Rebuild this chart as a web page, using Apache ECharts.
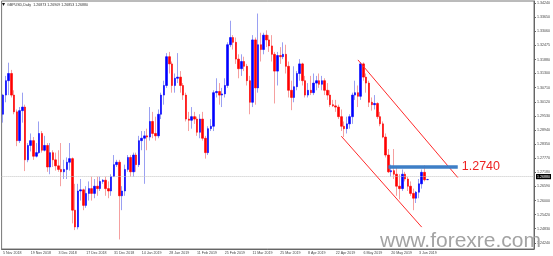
<!DOCTYPE html>
<html><head><meta charset="utf-8">
<script src="https://cdn.jsdelivr.net/npm/echarts@6/dist/echarts.min.js"></script>
<style>html,body{margin:0;padding:0;background:#fff}#c{width:553px;height:256px}</style>
</head><body><div id="c"></div>
<script>
// ---- data ----
const headerText = 'GBPUSD,Daily  1.26873 1.26909 1.26853 1.26880';
const tickDates = ['5 Nov 2018','19 Nov 2018','3 Dec 2018','17 Dec 2018','31 Dec 2018','14 Jan 2019','28 Jan 2019','11 Feb 2019','25 Feb 2019','11 Mar 2019','25 Mar 2019','8 Apr 2019','22 Apr 2019','6 May 2019','20 May 2019','3 Jun 2019'];
const priceTicks = [1.34240,1.33650,1.33060,1.32475,1.31880,1.31300,1.30710,1.30120,1.29530,1.28940,1.28350,1.27770,1.27180,1.26590,1.26000,1.25420,1.24830,1.24240];
const opens = [
1.2960,1.3040,1.3100,1.3130,1.3040,1.2970,1.2850,1.2975,1.2990,1.2770,
1.2830,1.2850,1.2785,1.2800,1.2880,1.2810,1.2830,1.2740,1.2800,1.2770,
1.2745,1.2730,1.2720,1.2730,1.2760,1.2775,1.2560,1.2490,1.2640,1.2645,
1.2580,1.2630,1.2650,1.2630,1.2660,1.2650,1.2680,1.2685,1.2650,1.2640,
1.2700,1.2750,1.2760,1.2620,1.2640,1.2730,1.2780,1.2720,1.2790,1.2750,
1.2850,1.2860,1.2870,1.2865,1.2930,1.2880,1.2870,1.2960,1.3040,1.3080,
1.3200,1.3170,1.3080,1.3110,1.3115,1.3080,1.3040,1.2940,1.2935,1.2950,
1.2940,1.2885,1.2940,1.2860,1.2800,1.2900,1.2910,1.3050,1.3055,1.3040,
1.3045,1.3080,1.3250,1.3280,1.3260,1.3190,1.3150,1.3180,1.3160,1.3100,
1.3010,1.3270,1.3070,1.3250,1.3230,1.3290,1.3270,1.3245,1.3210,1.3140,
1.3205,1.3200,1.3210,1.3160,1.3060,1.3030,1.3075,1.3130,1.3170,1.3100,
1.3040,1.3060,1.3050,1.3090,1.3100,1.3085,1.3100,1.3060,1.3040,1.3000,
1.2995,1.2990,1.2950,1.2910,1.2900,1.2920,1.2950,1.3040,1.3050,1.3035,
1.3170,1.3115,1.3090,1.3010,1.3000,1.3005,1.2950,1.2920,1.2865,1.2790,
1.2720,1.2725,1.2710,1.2660,1.2650,1.2710,1.2690,1.2660,1.2630,1.2610,
1.2635,1.2670,1.2718,1.26873];
const highs = [
1.3045,1.3120,1.3175,1.3145,1.3060,1.2980,1.2990,1.3050,1.3000,1.2840,
1.2880,1.2865,1.2840,1.2930,1.2890,1.2870,1.2840,1.2840,1.2810,1.2800,
1.2810,1.2840,1.2770,1.2780,1.2840,1.2780,1.2670,1.2670,1.2690,1.2650,
1.2660,1.2680,1.2700,1.2690,1.2700,1.2700,1.2690,1.2700,1.2680,1.2710,
1.2790,1.2770,1.2770,1.2660,1.2750,1.2790,1.2790,1.2800,1.2800,1.2870,
1.2890,1.2890,1.2900,1.2990,1.2970,1.2950,1.2980,1.3050,1.3100,1.3215,
1.3220,1.3180,1.3130,1.3215,1.3140,1.3090,1.3050,1.2970,1.2990,1.2970,
1.2950,1.2960,1.2970,1.2870,1.2910,1.2940,1.3060,1.3110,1.3090,1.3070,
1.3110,1.3260,1.3350,1.3290,1.3280,1.3210,1.3210,1.3200,1.3170,1.3120,
1.3290,1.3280,1.3380,1.3300,1.3300,1.3310,1.3290,1.3290,1.3220,1.3220,
1.3240,1.3260,1.3250,1.3180,1.3100,1.3160,1.3140,1.3190,1.3175,1.3120,
1.3090,1.3120,1.3130,1.3120,1.3130,1.3120,1.3110,1.3090,1.3060,1.3020,
1.3020,1.3000,1.2980,1.2930,1.2950,1.2960,1.3050,1.3100,1.3080,1.3178,
1.3176,1.3130,1.3100,1.3030,1.3040,1.3010,1.2970,1.2930,1.2880,1.2815,
1.2750,1.2815,1.2740,1.2710,1.2730,1.2720,1.2700,1.2680,1.2650,1.2640,
1.2690,1.2730,1.2747,1.26909];
const lows = [
1.2925,1.3010,1.3040,1.3030,1.2960,1.2827,1.2840,1.2925,1.2723,1.2760,
1.2805,1.2770,1.2780,1.2795,1.2800,1.2805,1.2720,1.2710,1.2740,1.2725,
1.2720,1.2660,1.2690,1.2690,1.2725,1.2505,1.2477,1.2480,1.2600,1.2560,
1.2570,1.2600,1.2600,1.2610,1.2620,1.2640,1.2670,1.2620,1.2610,1.2620,
1.2700,1.2740,1.2438,1.2560,1.2620,1.2720,1.2700,1.2700,1.2720,1.2740,
1.2810,1.2670,1.2810,1.2850,1.2860,1.2850,1.2860,1.2940,1.3000,1.3070,
1.3130,1.3050,1.3050,1.3090,1.3050,1.3020,1.2930,1.2890,1.2900,1.2920,
1.2870,1.2860,1.2850,1.2775,1.2790,1.2890,1.2890,1.3030,1.3000,1.2990,
1.3030,1.3070,1.3240,1.3230,1.3170,1.3110,1.3120,1.3140,1.3080,1.2960,
1.2990,1.3000,1.3050,1.3180,1.3210,1.3240,1.3220,1.3180,1.3005,1.3080,
1.3170,1.3190,1.3130,1.3030,1.2977,1.3010,1.3060,1.3100,1.3080,1.3030,
1.3030,1.3040,1.3040,1.3060,1.3070,1.3060,1.3040,1.3020,1.2990,1.2990,
1.2970,1.2940,1.2890,1.2865,1.2880,1.2900,1.2920,1.3020,1.2990,1.3020,
1.3100,1.3050,1.2990,1.2975,1.2980,1.2940,1.2910,1.2860,1.2780,1.2715,
1.2700,1.2690,1.2620,1.2605,1.2640,1.2680,1.2640,1.2620,1.2560,1.2590,
1.2610,1.2650,1.2680,1.26853];
const closes = [
1.3040,1.3100,1.3130,1.3040,1.2970,1.2850,1.2975,1.2990,1.2770,1.2830,
1.2850,1.2785,1.2800,1.2880,1.2810,1.2830,1.2740,1.2800,1.2770,1.2745,
1.2730,1.2720,1.2730,1.2760,1.2775,1.2560,1.2490,1.2640,1.2645,1.2580,
1.2630,1.2650,1.2630,1.2660,1.2650,1.2680,1.2685,1.2650,1.2640,1.2700,
1.2750,1.2760,1.2620,1.2640,1.2730,1.2780,1.2720,1.2790,1.2750,1.2850,
1.2860,1.2870,1.2865,1.2930,1.2880,1.2870,1.2960,1.3040,1.3080,1.3200,
1.3170,1.3080,1.3110,1.3115,1.3080,1.3040,1.2940,1.2935,1.2950,1.2940,
1.2885,1.2940,1.2860,1.2800,1.2900,1.2910,1.3050,1.3055,1.3040,1.3045,
1.3080,1.3250,1.3280,1.3260,1.3190,1.3150,1.3180,1.3160,1.3100,1.3010,
1.3270,1.3070,1.3250,1.3230,1.3290,1.3270,1.3245,1.3210,1.3140,1.3205,
1.3200,1.3210,1.3160,1.3060,1.3030,1.3075,1.3130,1.3170,1.3100,1.3040,
1.3060,1.3050,1.3090,1.3100,1.3085,1.3100,1.3060,1.3040,1.3000,1.2995,
1.2990,1.2950,1.2910,1.2900,1.2920,1.2950,1.3040,1.3050,1.3035,1.3170,
1.3115,1.3090,1.3010,1.3000,1.3005,1.2950,1.2920,1.2865,1.2790,1.2720,
1.2725,1.2710,1.2660,1.2650,1.2710,1.2690,1.2660,1.2630,1.2610,1.2635,
1.2670,1.2718,1.2687,1.26880];
const currentPrice = 1.26880;
const levelPrice = 1.2740;
const levelFrom = 139, levelTo = 164;
const upperChannel = [[128, 1.31867], [164, 1.26963]];
const lowerChannel = [[122, 1.28686], [151, 1.24895]];
const watermark = 'www.forexre.com';
const slotCount = 192;
// ---- chart ----
const cats = Array.from({length: slotCount}, (_, i) => String(i));
const showTick = (i) => i % 10 === 0 && i / 10 < tickDates.length;
const wickData = opens.map((o, i) => [o, closes[i], lows[i], highs[i]]);
const bodyData = opens.map((o, i) => [o, closes[i], Math.min(o, closes[i]), Math.max(o, closes[i])]);
const FONT = '"Liberation Sans", Arial, sans-serif';
const chart = echarts.init(document.getElementById('c'));
chart.setOption({
  animation: false,
  backgroundColor: '#fff',
  grid: {left: 0, right: 18, top: 1, bottom: 7, show: true, borderColor: '#777', borderWidth: 1},
  xAxis: {
    type: 'category', data: cats, boundaryGap: true,
    axisLine: {lineStyle: {color: '#666', width: 1}},
    axisTick: {alignWithLabel: true, interval: showTick, length: 2, lineStyle: {color: '#666'}},
    axisLabel: {interval: showTick, formatter: (v, i) => tickDates[Math.round(i / 10)] || '', align: 'left',
      fontSize: 3.6, margin: 1.5, color: '#444', fontFamily: FONT},
    splitLine: {show: false}
  },
  yAxis: {
    type: 'value', position: 'right', min: 1.23982, max: 1.34323, scale: true,
    axisLine: {show: true, lineStyle: {color: '#666', width: 1}},
    axisTick: {show: true, customValues: priceTicks, length: 2, lineStyle: {color: '#666'}},
    axisLabel: {customValues: priceTicks, formatter: (v) => Number(v).toFixed(5), fontSize: 3.6, margin: 3,
      color: '#444', fontFamily: FONT},
    splitLine: {show: false}
  },
  series: [
    {
      type: 'candlestick', name: 'wick', data: wickData, barWidth: 1,
      itemStyle: {color: '#9aa0f2', color0: '#f5a0a0', borderColor: '#9aa0f2', borderColor0: '#f5a0a0', borderWidth: 1},
      markLine: {
        silent: true, symbol: ['none', 'none'], animation: false,
        data: [
          {yAxis: currentPrice, lineStyle: {type: 'dotted', color: '#c4c4c4', width: 1},
            label: {show: true, position: 'end', formatter: currentPrice.toFixed(5), backgroundColor: '#000', color: '#fff',
              fontSize: 3.6, padding: [0.6, 1], distance: 2, fontFamily: FONT}},
          [{coord: upperChannel[0], lineStyle: {color: '#ff2a2a', width: 1, type: 'solid'}, label: {show: false}},
           {coord: upperChannel[1]}],
          [{coord: lowerChannel[0], lineStyle: {color: '#ff2a2a', width: 1, type: 'solid'}, label: {show: false}},
           {coord: lowerChannel[1]}],
          [{coord: [levelFrom, levelPrice], lineStyle: {color: '#3d7ec6', width: 3.5, type: 'solid'},
            label: {show: true, position: 'end', formatter: levelPrice.toFixed(4), color: '#ee2222', fontSize: 12.5,
              distance: 4, fontFamily: FONT}},
           {coord: [levelTo, levelPrice]}]
        ]
      }
    },
    {
      type: 'candlestick', name: 'body', data: bodyData, barWidth: 2,
      itemStyle: {color: '#0000ff', color0: '#ff0000', borderColor: '#0000ff', borderColor0: '#ff0000', borderWidth: 0.6}
    }
  ],
  graphic: [
    {type: 'polygon', shape: {points: [[2, 3], [5, 3], [3.5, 6]]}, style: {fill: '#111'}},
    {type: 'text', style: {x: 7, y: 2.5, text: headerText, fontSize: 3.6, fontFamily: FONT, fill: '#333'}},
    {type: 'text', z: 100, style: {x: 380, y: 231, text: watermark, fontSize: 21, fontFamily: FONT, fill: '#a3a3a3'}}
  ]
});
</script>
</body></html>
